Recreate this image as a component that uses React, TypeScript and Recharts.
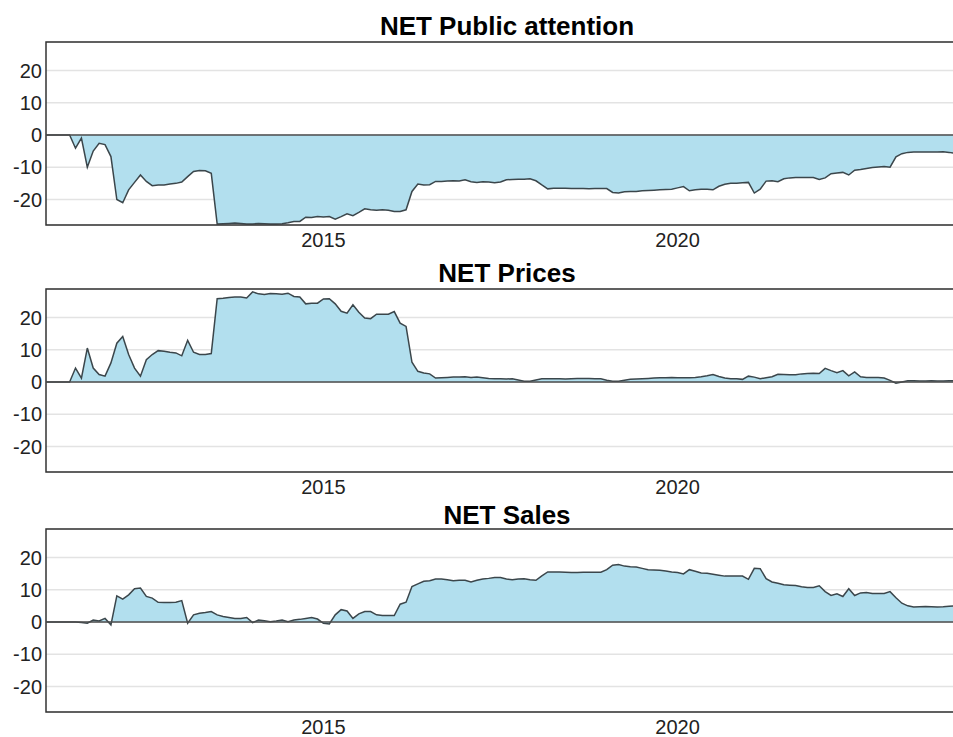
import React from "react";
import {
  AreaChart,
  Area,
  XAxis,
  YAxis,
  CartesianGrid,
  ReferenceLine,
  ReferenceArea,
} from "recharts";

// Monthly observations, Feb 2011 .. Dec 2023
const firstYear = 2011;
const firstMonthIndex = 1; // 0 = Jan, 1 = Feb

const publicAttention = [
  0, 0, 0, 0, 0,
  -4.1, -1, -10, -5, -2.6,
  -3, -6.7, -20, -21, -17,
  -14.7, -12.4, -14.4, -15.7, -15.5,
  -15.5, -15.2, -15, -14.6, -12.9,
  -11.3, -11, -11.1, -11.9, -27.6,
  -27.5, -27.4, -27.3, -27.4, -27.6,
  -27.6, -27.4, -27.5, -27.6, -27.6,
  -27.5, -27.2, -26.8, -26.8, -25.5,
  -25.6, -25.3, -25.4, -25.3, -26.1,
  -25.3, -24.4, -25, -24, -22.9,
  -23.2, -23.3, -23.2, -23.3, -23.7,
  -23.7, -23.2, -17.5, -15.2, -15.5,
  -15.4, -14.4, -14.4, -14.3, -14.2,
  -14.3, -13.9, -14.5, -14.7, -14.5,
  -14.6, -14.8, -14.6, -13.9, -13.8,
  -13.7, -13.7, -13.6, -14.2, -15.5,
  -16.7, -16.5, -16.5, -16.5, -16.6,
  -16.6, -16.6, -16.7, -16.6, -16.6,
  -16.6, -17.8, -18, -17.6, -17.5,
  -17.5, -17.3, -17.2, -17.1, -17,
  -16.9, -16.8, -16.4, -16, -17.3,
  -17, -16.8, -16.8, -17, -15.9,
  -15.3, -15, -15, -14.8, -14.7,
  -18, -16.8, -14.3, -14.2, -14.5,
  -13.6, -13.3, -13.2, -13.2, -13.2,
  -13.2, -13.8, -13.3, -12, -11.8,
  -11.6, -12.4, -10.9, -10.7, -10.4,
  -10.1, -9.9, -9.8, -10, -6.8,
  -5.8, -5.4, -5.3, -5.3, -5.3,
  -5.3, -5.3, -5.2, -5.4, -5.7,
];

const prices = [
  0, 0, 0, 0, 0,
  4.3, 1.2, 10.5, 4.3, 2.3,
  1.8, 5.9, 12, 14.1, 8.5,
  4.3, 1.8, 6.9, 8.5, 9.7,
  9.5, 9.2, 9, 8.1, 12.9,
  9.2, 8.5, 8.5, 8.8, 25.8,
  25.9, 26.2, 26.3, 26.3, 26,
  27.9, 27.3, 27.1, 27.4, 27.3,
  27.2, 27.5, 26.5, 26.3, 24.2,
  24.4, 24.4, 25.7, 25.8, 24.2,
  21.9, 21.3, 23.9, 21.6, 19.8,
  19.6, 21, 21, 21, 21.8,
  18.2, 17.2, 6.1, 3.3, 2.8,
  2.5, 1.2, 1.3, 1.4, 1.5,
  1.5, 1.6, 1.4, 1.5, 1.3,
  1.1, 1, 1, 0.9, 1,
  0.6, 0.2, 0.2, 0.6, 1,
  1, 1, 1, 0.9, 1,
  1.1, 1.1, 1.1, 1, 1,
  0.5, 0.2, 0.2, 0.5, 0.8,
  0.9, 1, 1.1, 1.2, 1.3,
  1.3, 1.4, 1.3, 1.3, 1.3,
  1.4, 1.6, 1.9, 2.3, 1.7,
  1.2, 1, 1, 0.8, 1.8,
  1.5, 1, 1.3, 1.6, 2.4,
  2.3, 2.2, 2.2, 2.5, 2.6,
  2.7, 2.6, 4.2, 3.5, 2.9,
  3.5, 1.9, 3.1, 1.6, 1.4,
  1.4, 1.4, 1.2, 0.5, -0.4,
  0, 0.4, 0.4, 0.3, 0.3,
  0.4, 0.3, 0.3, 0.4, 0.4,
];

const sales = [
  0, 0, 0, 0, 0,
  0, -0.2, -0.4, 0.6, 0.3,
  1.1, -0.9, 8.1, 7.1, 8.4,
  10.3, 10.5, 7.9, 7.4, 6.1,
  6, 6, 6.1, 6.6, -0.4,
  2.2, 2.7, 2.9, 3.2, 2.2,
  1.7, 1.4, 1.1, 1.1, 1.4,
  -0.2, 0.6, 0.4, 0.1, 0.3,
  0.6, 0.1, 0.6, 0.8, 1.1,
  1.4, 0.9, -0.4, -0.6, 2.2,
  3.8, 3.4, 1.1, 2.5, 3.2,
  3.2, 2.2, 2, 2, 2,
  5.5, 6.1, 11, 11.8, 12.6,
  12.8, 13.3, 13.3, 13.1, 12.8,
  12.9, 12.9, 12.4, 12.9, 13.3,
  13.5, 13.8, 13.8, 13.3, 13.1,
  13.3, 13.4, 13.1, 12.9, 14.3,
  15.5, 15.5, 15.5, 15.4, 15.3,
  15.3, 15.4, 15.4, 15.4, 15.4,
  16.2, 17.6, 17.8, 17.3, 17.1,
  17, 16.6, 16.2, 16.1, 16,
  15.8, 15.5, 15.3, 14.9, 16.2,
  15.7, 15.2, 15.1, 14.8, 14.5,
  14.2, 14.2, 14.2, 14.2, 13.2,
  16.6, 16.5, 13.4, 12.4, 12,
  11.5, 11.4, 11.3, 10.9, 10.7,
  10.7, 11.2, 9.4, 8.2, 8.7,
  7.9, 10.3, 8.2, 9, 9.1,
  8.8, 8.8, 8.8, 9.4, 7.5,
  5.8, 5, 4.6, 4.7, 4.8,
  4.7, 4.6, 4.7, 4.9, 5,
];

const panelTitles = ["NET Public attention", "NET Prices", "NET Sales"];
const seriesKeys = ["attention", "prices", "sales"];
const yTicks = [-20, -10, 0, 10, 20];
const xTicks = [2015, 2020];
const yDomain: [number, number] = [-27.9, 28.8];

const data = publicAttention.map((v, i) => ({
  t: firstYear + (firstMonthIndex + i) / 12,
  attention: v,
  prices: prices[i],
  sales: sales[i],
}));

const xDomain: [number, number] = [data[0].t, data[data.length - 1].t];

const FONT = '"Liberation Sans", Arial, Helvetica, sans-serif';
const FILL = "#b2dfee";
const LINE = "#3b464b";

const plotTops = [42, 289, 529];
const titleBaselines = [35, 282, 524];
const PLOT_H = 183;
const MARGIN_TOP = 5;
const XAXIS_H = 30;

function Panel({ k, top }: { k: string; top: number }) {
  return (
    <div style={{ position: "absolute", left: 0, top: top - MARGIN_TOP }}>
      <AreaChart
        width={958}
        height={MARGIN_TOP + PLOT_H + XAXIS_H}
        data={data}
        margin={{ top: MARGIN_TOP, right: 3, bottom: 0, left: 0 }}
      >
        <CartesianGrid vertical={false} stroke="#e3e3e3" strokeWidth={1.5} />
        <XAxis
          dataKey="t"
          type="number"
          domain={xDomain}
          ticks={xTicks}
          allowDataOverflow
          axisLine={false}
          tickLine={false}
          tickSize={0}
          tickMargin={8}
          height={XAXIS_H}
          tick={{ fill: "#222", fontSize: 20, fontFamily: FONT }}
          tickFormatter={(v: number) => String(Math.round(v))}
        />
        <YAxis
          type="number"
          domain={yDomain}
          ticks={yTicks}
          allowDataOverflow
          width={46}
          axisLine={false}
          tickLine={false}
          tickSize={0}
          tickMargin={4}
          interval={0}
          tick={{ fill: "#222", fontSize: 20, fontFamily: FONT }}
        />
        <Area
          type="linear"
          dataKey={k}
          baseValue={0}
          stroke={LINE}
          strokeWidth={1.5}
          fill={FILL}
          fillOpacity={1}
          isAnimationActive={false}
          dot={false}
          activeDot={false}
        />
        <ReferenceLine y={0} stroke="#4d4d4d" strokeWidth={1.5} />
        <ReferenceArea
          x1={xDomain[0]}
          x2={xDomain[1]}
          y1={yDomain[0]}
          y2={yDomain[1]}
          fill="none"
          fillOpacity={0}
          stroke="#333"
          strokeWidth={1.5}
          ifOverflow="visible"
        />
      </AreaChart>
    </div>
  );
}

export default function App() {
  return (
    <div
      style={{
        position: "absolute",
        left: 0,
        top: 0,
        width: 953,
        height: 737,
        overflow: "hidden",
        background: "#fff",
      }}
    >
      {seriesKeys.map((k, i) => (
        <Panel key={k} k={k} top={plotTops[i]} />
      ))}
      <svg
        width={953}
        height={737}
        style={{ position: "absolute", left: 0, top: 0, pointerEvents: "none" }}
      >
        {panelTitles.map((title, i) => (
          <text
            key={title}
            x={507}
            y={titleBaselines[i]}
            textAnchor="middle"
            fontFamily={FONT}
            fontWeight="bold"
            fontSize={26}
            fill="#000"
          >
            {title}
          </text>
        ))}
      </svg>
    </div>
  );
}
